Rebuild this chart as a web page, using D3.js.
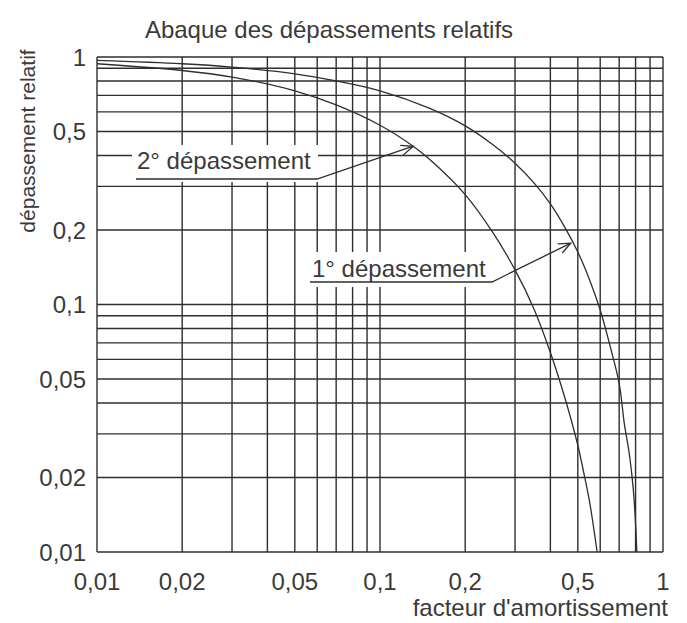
<!DOCTYPE html>
<html>
<head>
<meta charset="utf-8">
<script src="https://cdn.jsdelivr.net/npm/d3@7"></script>
<style>
  body { margin: 0; background: #fff; }
  svg text { font-family: "Liberation Sans", Arial, sans-serif; fill: #3a3a3a; }
</style>
</head>
<body>
<svg id="chart"></svg>
<script>
// Grid values (log scale, both axes)
const gridValues = [0.01, 0.02, 0.03, 0.04, 0.05, 0.06, 0.07, 0.08, 0.09,
  0.1, 0.2, 0.3, 0.4, 0.5, 0.6, 0.7, 0.8, 0.9, 1];
const tickValues = [0.01, 0.02, 0.05, 0.1, 0.2, 0.5, 1];
const tickLabels = ["0,01", "0,02", "0,05", "0,1", "0,2", "0,5", "1"];

// 1st overshoot
const zeta1 = [0.01, 0.02, 0.03, 0.05, 0.07, 0.1, 0.15, 0.2, 0.25, 0.3, 0.35, 0.4,
  0.45, 0.5, 0.55, 0.6, 0.65, 0.7, 0.73, 0.76, 0.785, 0.8, 0.808];
const overshoot1 = [0.969, 0.939, 0.91, 0.855, 0.80, 0.73, 0.62, 0.527, 0.443, 0.372, 0.31, 0.255,
  0.205, 0.163, 0.126, 0.095, 0.068, 0.048, 0.033, 0.025, 0.018, 0.013, 0.01];

// 2nd overshoot
const zeta2 = [0.01, 0.02, 0.03, 0.05, 0.07, 0.1, 0.131, 0.15, 0.2, 0.25, 0.3, 0.35,
  0.4, 0.45, 0.5, 0.52, 0.55, 0.585];
const overshoot2 = [0.939, 0.882, 0.83, 0.73, 0.64, 0.53, 0.436, 0.385, 0.278, 0.196, 0.138, 0.096,
  0.064, 0.042, 0.027, 0.022, 0.016, 0.01];

// annotation labels and where their arrows point
const labels = ["2° dépassement", "1° dépassement"];
const arrowTips = [[0.131, 0.436], [0.472, 0.177]];

const width = 687;
const height = 623;

const svg = d3.select("#chart")
  .attr("width", width)
  .attr("height", height);

const x = d3.scaleLog().domain([0.01, 1]).range([97, 663]);
const y = d3.scaleLog().domain([0.01, 1]).range([552, 57]);

const ink = "#2e2e2e";

// grid
svg.append("g").selectAll("line")
  .data(gridValues).enter().append("line")
  .attr("x1", d => x(d)).attr("x2", d => x(d))
  .attr("y1", y(0.01)).attr("y2", y(1))
  .attr("stroke", ink).attr("stroke-width", 1.4);

svg.append("g").selectAll("line")
  .data(gridValues).enter().append("line")
  .attr("y1", d => y(d)).attr("y2", d => y(d))
  .attr("x1", x(0.01)).attr("x2", x(1))
  .attr("stroke", ink).attr("stroke-width", 1.4);

// curves
const line = d3.line()
  .x(d => x(d[0]))
  .y(d => y(d[1]))
  .curve(d3.curveCatmullRom);

svg.append("path")
  .datum(d3.zip(zeta1, overshoot1))
  .attr("d", line)
  .attr("fill", "none").attr("stroke", ink).attr("stroke-width", 1.3);

svg.append("path")
  .datum(d3.zip(zeta2, overshoot2))
  .attr("d", line)
  .attr("fill", "none").attr("stroke", ink).attr("stroke-width", 1.3);

// tick labels
svg.append("g").selectAll("text")
  .data(tickValues).enter().append("text")
  .attr("x", d => x(d))
  .attr("y", 590)
  .attr("text-anchor", "middle")
  .attr("font-size", 24)
  .text((d, i) => tickLabels[i]);

svg.append("g").selectAll("text")
  .data(tickValues).enter().append("text")
  .attr("x", 86)
  .attr("y", d => y(d))
  .attr("dy", "0.36em")
  .attr("text-anchor", "end")
  .attr("font-size", 24)
  .text((d, i) => tickLabels[i]);

// titles
svg.append("text")
  .attr("x", 329).attr("y", 38)
  .attr("text-anchor", "middle")
  .attr("font-size", 24)
  .text("Abaque des dépassements relatifs");

svg.append("text")
  .attr("x", 668).attr("y", 616)
  .attr("text-anchor", "end")
  .attr("font-size", 24)
  .text("facteur d'amortissement");

svg.append("text")
  .attr("transform", "translate(35,141) rotate(-90)")
  .attr("text-anchor", "middle")
  .attr("font-size", 21)
  .text("dépassement relatif");

// annotations with arrows
const notes = [
  { box: [132, 145, 186, 37], tx: 137, ty: 169, under: [136, 317, 179] },
  { box: [306, 252, 186, 35], tx: 312, ty: 277, under: [310, 492, 282] }
];

notes.forEach((n, i) => {
  const g = svg.append("g");
  g.append("rect")
    .attr("x", n.box[0]).attr("y", n.box[1])
    .attr("width", n.box[2]).attr("height", n.box[3])
    .attr("fill", "#fff");
  g.append("text")
    .attr("x", n.tx).attr("y", n.ty)
    .attr("font-size", 24)
    .text(labels[i]);

  const tip = [x(arrowTips[i][0]), y(arrowTips[i][1])];
  const start = [n.under[1], n.under[2]];
  g.append("path")
    .attr("d", `M${n.under[0]},${n.under[2]}L${start[0]},${start[1]}L${tip[0]},${tip[1]}`)
    .attr("fill", "none").attr("stroke", ink).attr("stroke-width", 1.3);

  // open arrow head
  const ang = Math.atan2(tip[1] - start[1], tip[0] - start[0]);
  const len = 13, spread = 0.4;
  const a1 = [tip[0] - len * Math.cos(ang - spread), tip[1] - len * Math.sin(ang - spread)];
  const a2 = [tip[0] - len * Math.cos(ang + spread), tip[1] - len * Math.sin(ang + spread)];
  g.append("path")
    .attr("d", `M${a1[0]},${a1[1]}L${tip[0]},${tip[1]}L${a2[0]},${a2[1]}`)
    .attr("fill", "none").attr("stroke", ink).attr("stroke-width", 1.3);
});
</script>
</body>
</html>
